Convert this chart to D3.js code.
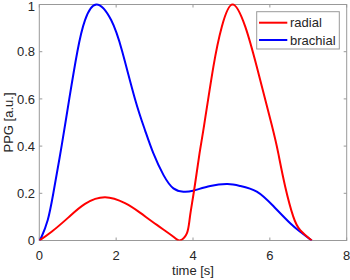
<!DOCTYPE html>
<html><head><meta charset="utf-8">
<script src="https://cdn.jsdelivr.net/npm/d3@7"></script>
<style>body{margin:0;background:#fff}svg{display:block}text{font-family:"Liberation Sans",Arial,sans-serif;fill:#262626}</style>
</head><body><svg id="c" width="350" height="280"></svg>
<script>
const xTicks = [0, 2, 4, 6, 8];
const yTicks = [0, 0.2, 0.4, 0.6, 0.8, 1];
const yTickLabels = ["0", "0.2", "0.4", "0.6", "0.8", "1"];
const seriesNames = ["radial", "brachial"];
const seriesColors = ["#ff0000", "#0000ff"];

const radialT = [0, 0.32, 0.76, 1.19, 1.71, 2.23, 2.62, 3.06, 3.49, 3.66, 3.84, 3.92, 4.03, 4.17, 4.29, 4.53, 4.75, 5.03, 5.36, 5.66, 6.05, 6.22, 6.4, 6.61, 6.79, 7.09];
const radialV = [0, 0.037, 0.098, 0.155, 0.183, 0.158, 0.118, 0.066, 0.016, 0, 0.03, 0.1, 0.214, 0.369, 0.489, 0.736, 0.906, 1.0, 0.906, 0.736, 0.489, 0.369, 0.228, 0.101, 0.044, 0];

const brachialT = [0, 0.06, 0.22, 0.365, 0.58, 0.78, 0.99, 1.19, 1.49, 1.87, 2.16, 2.49, 2.75, 2.97, 3.23, 3.49, 3.75, 4.0, 4.45, 4.9, 5.23, 5.66, 6.09, 6.53, 6.79, 7.09];
const brachialV = [0, 0.016, 0.087, 0.2, 0.4, 0.6, 0.8, 0.934, 1.0, 0.934, 0.8, 0.6, 0.468, 0.369, 0.278, 0.221, 0.207, 0.211, 0.231, 0.239, 0.231, 0.207, 0.146, 0.073, 0.037, 0];

const svg = d3.select("#c");
const L = 39.3, R = 346.7, T = 4.5, B = 240.5;
const x = d3.scaleLinear().domain([0, 8]).range([L, R]);
const y = d3.scaleLinear().domain([0, 1]).range([B, T]);
const axisColor = "#999";
const tk = 3;

svg.append("rect").attr("x", L).attr("y", T).attr("width", R - L).attr("height", B - T)
  .attr("fill", "none").attr("stroke", axisColor).attr("stroke-width", 1);

xTicks.forEach(v => {
  svg.append("line").attr("x1", x(v)).attr("x2", x(v)).attr("y1", B).attr("y2", B - tk).attr("stroke", axisColor);
  svg.append("line").attr("x1", x(v)).attr("x2", x(v)).attr("y1", T).attr("y2", T + tk).attr("stroke", axisColor);
  svg.append("text").attr("x", x(v)).attr("y", 260).attr("text-anchor", "middle").attr("font-size", 13).text(v);
});
yTicks.forEach((v, i) => {
  svg.append("line").attr("x1", L).attr("x2", L + tk).attr("y1", y(v)).attr("y2", y(v)).attr("stroke", axisColor);
  svg.append("line").attr("x1", R).attr("x2", R - tk).attr("y1", y(v)).attr("y2", y(v)).attr("stroke", axisColor);
  svg.append("text").attr("x", 35).attr("y", Math.max(y(v), 6.5)).attr("dy", "0.36em").attr("text-anchor", "end").attr("font-size", 13).text(yTickLabels[i]);
});

svg.append("text").attr("x", (L + R) / 2).attr("y", 275).attr("text-anchor", "middle").attr("font-size", 13).text("time [s]");
svg.append("text").attr("transform", `translate(13,${(T + B) / 2}) rotate(-90)`).attr("text-anchor", "middle").attr("font-size", 13).text("PPG [a.u.]");

const line = d3.line().x(d => x(d[0])).y(d => y(d[1])).curve(d3.curveNatural);
const series = [d3.zip(radialT, radialV), d3.zip(brachialT, brachialV)];
svg.append("clipPath").attr("id", "pc").append("rect").attr("x", L).attr("y", T - 2).attr("width", R - L).attr("height", B - T + 2);
const plot = svg.append("g").attr("clip-path", "url(#pc)");
plot.append("path").datum(series[1]).attr("d", line).attr("fill", "none").attr("stroke", seriesColors[1]).attr("stroke-width", 2);
plot.append("path").datum(series[0]).attr("d", line).attr("fill", "none").attr("stroke", seriesColors[0]).attr("stroke-width", 2);

const lg = svg.append("g");
lg.append("rect").attr("x", 256.7).attr("y", 11.7).attr("width", 82.6).attr("height", 37.3)
  .attr("fill", "#fff").attr("stroke", axisColor);
seriesNames.forEach((n, i) => {
  const yy = 22.7 + i * 17.3;
  lg.append("line").attr("x1", 259).attr("x2", 287.3).attr("y1", yy).attr("y2", yy).attr("stroke", seriesColors[i]).attr("stroke-width", 2);
  lg.append("text").attr("x", 290).attr("y", yy).attr("dy", "0.36em").attr("font-size", 13).text(n);
});
</script></body></html>
